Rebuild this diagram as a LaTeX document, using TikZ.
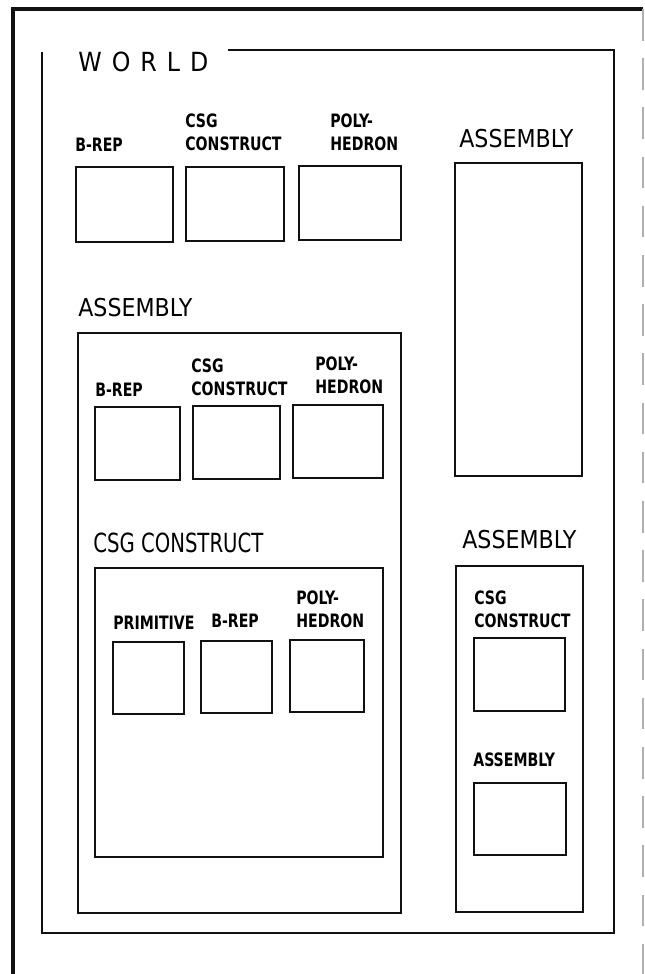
\documentclass[tikz,border=0pt]{standalone}
\usepackage{fontspec}
\setmainfont{DejaVu Sans Condensed}
\newfontfamily\worldfont[LetterSpace=38]{DejaVu Sans Condensed}
\newfontfamily\lblfont[FakeStretch=0.85]{DejaVu Sans Condensed}
\newfontfamily\narrowfont[FakeStretch=0.83]{DejaVu Sans Condensed}
\usetikzlibrary{positioning}
\definecolor{scanblack}{HTML}{111111}
\definecolor{scangray}{HTML}{B0B0B0}

\begin{document}
\begin{tikzpicture}[x=0.02cm, y=-0.02cm,
    frame/.style={scanblack, line width=1.5pt},
    slot/.style={scanblack, line width=1.2pt},
    lbl/.style={anchor=south west, inner sep=0pt, align=left, font=\lblfont\bfseries\fontsize{10.5}{13}\selectfont},
    head/.style={anchor=south west, inner sep=0pt, font=\fontsize{14}{16}\selectfont}]
  \useasboundingbox (0,0) rectangle (645,974);
  % sheet edge
  \draw[scanblack, line width=2.2pt] (13,974) -- (13,9) -- (643,9);
  \draw[scangray, line width=0.8pt, dash pattern=on 18pt off 10pt] (643,9) -- (643,974);

  % world
  \node[head, font=\worldfont\fontsize{15}{18}\selectfont] (world) at (78,72) {WORLD};
  \draw[frame] (228,50) -- (614,50) -- (614,933) -- (42,933) -- (42,52);

  % top row
  \node[lbl] (wbrep) at (75,152) {B-REP};
  \node[lbl] (wcsg) at (185,151) {CSG\\CONSTRUCT};
  \node[lbl] (wpoly) at (330,151) {POLY-\\HEDRON};
  \foreach \xa/\ya/\xb/\yb in {76/167/173/242, 186/167/284/241, 299/166/401/240}
    \draw[slot] (\xa,\ya) rectangle (\xb,\yb);

  % assembly, top right
  \node[head] (asmR) at (459,148) {ASSEMBLY};
  \draw[frame] (455,163) rectangle (582,476);

  % assembly, left
  \node[head] (asmL) at (78,317) {ASSEMBLY};
  \draw[frame] (78,333) rectangle (401,913);
  \node[lbl] (abrep) at (95,397) {B-REP};
  \node[lbl] (acsg) at (191,396) {CSG\\CONSTRUCT};
  \node[lbl] (apoly) at (315,394) {POLY-\\HEDRON};
  \foreach \xa/\ya/\xb/\yb in {95/407/180/480, 193/406/280/479, 293/405/383/478}
    \draw[slot] (\xa,\ya) rectangle (\xb,\yb);

  % csg construct
  \node[head, font=\narrowfont\fontsize{15}{18}\selectfont] (csg) at (93,553) {CSG CONSTRUCT};
  \draw[frame] (95,568) rectangle (383,857);
  \node[lbl] (cprim) at (113,630) {PRIMITIVE};
  \node[lbl] (cbrep) at (211,628) {B-REP};
  \node[lbl] (cpoly) at (296,628) {POLY-\\HEDRON};
  \foreach \xa/\ya/\xb/\yb in {113/642/184/714, 201/641/272/713, 290/640/364/712}
    \draw[slot] (\xa,\ya) rectangle (\xb,\yb);

  % assembly, lower right
  \node[head] (asmS) at (462,549) {ASSEMBLY};
  \draw[frame] (456,566) rectangle (583,912);
  \node[lbl] (scsg) at (474,628) {CSG\\CONSTRUCT};
  \node[lbl] (sasm) at (473,767) {ASSEMBLY};
  \foreach \xa/\ya/\xb/\yb in {474/638/565/711, 474/783/566/855}
    \draw[slot] (\xa,\ya) rectangle (\xb,\yb);
\end{tikzpicture}
\end{document}
